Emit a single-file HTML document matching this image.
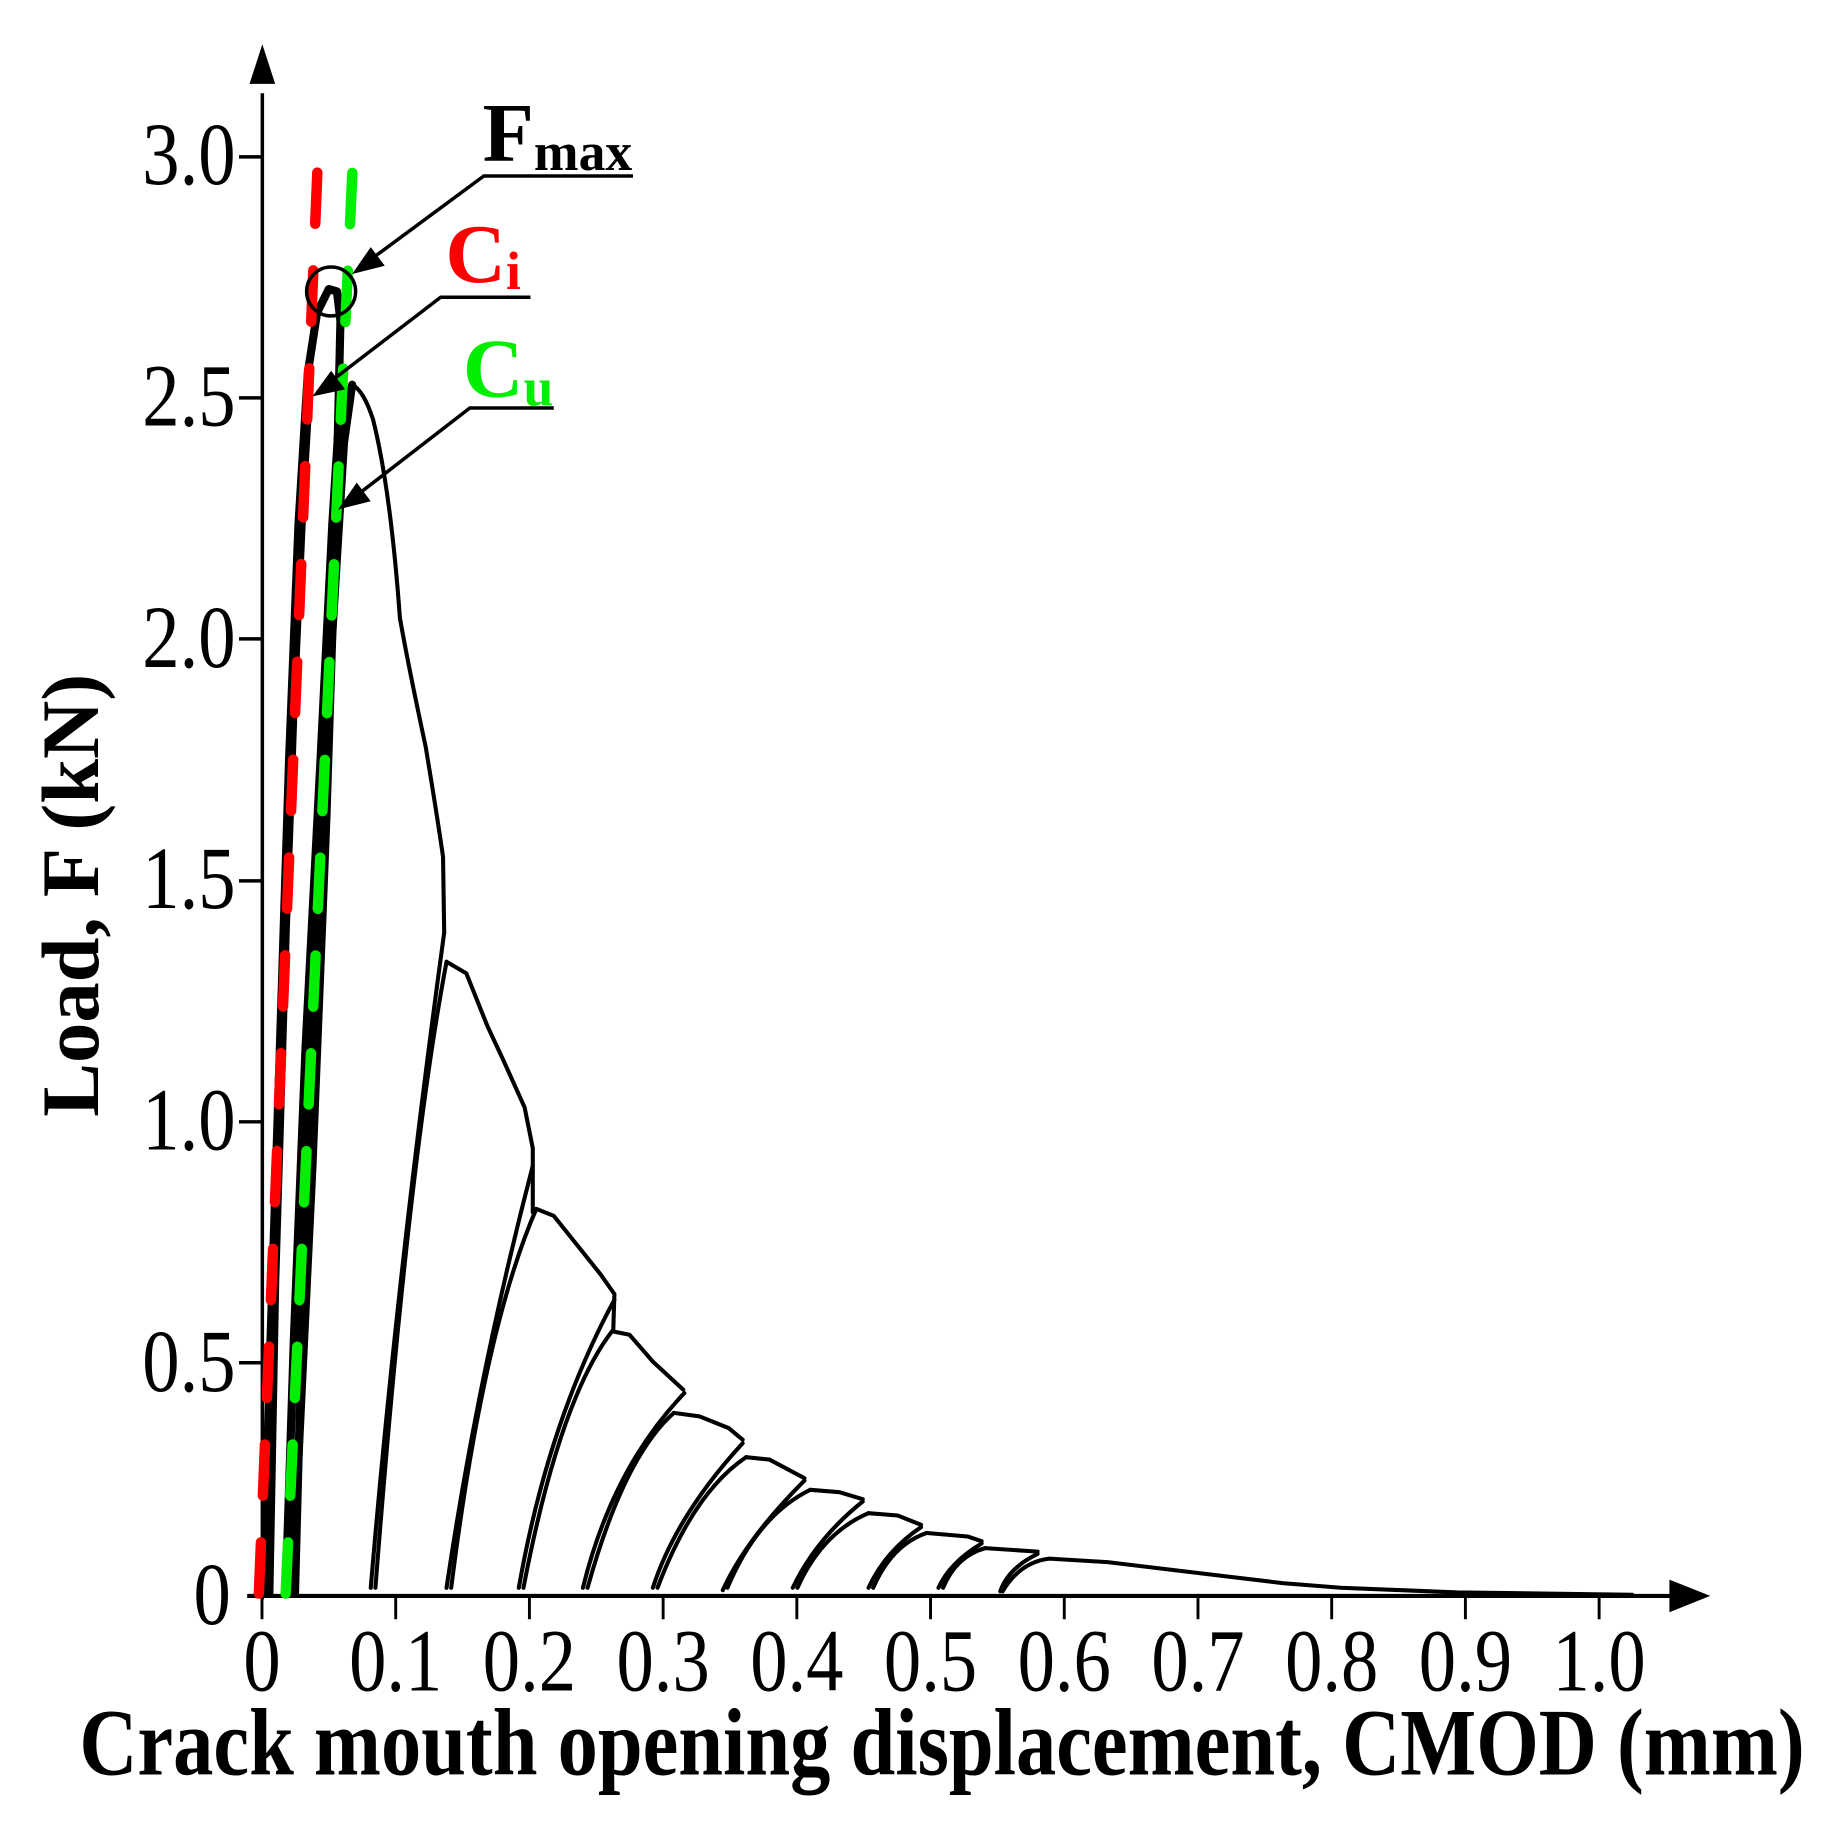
<!DOCTYPE html>
<html><head><meta charset="utf-8"><style>html,body{margin:0;padding:0;background:#fff}svg{display:block}</style></head>
<body>
<svg width="1828" height="1825" viewBox="0 0 1568 1565.5" xmlns="http://www.w3.org/2000/svg">
<rect x="0" y="0" width="1568" height="1566" fill="#fff"/>
<g font-family="Liberation Serif, serif" fill="#000">
<line x1="225" y1="80" x2="225" y2="1372" stroke="#000" stroke-width="3"/>
<polygon points="225,38 214,72 236,72" fill="#000"/>
<line x1="212" y1="1369" x2="1440" y2="1369" stroke="#000" stroke-width="3.5"/>
<polygon points="1467,1369 1432,1355 1432,1383" fill="#000"/>
<g stroke="#000" stroke-width="3">
<line x1="205" y1="134.6" x2="225" y2="134.6"/><line x1="205" y1="341.3" x2="225" y2="341.3"/>
<line x1="205" y1="548" x2="225" y2="548"/><line x1="205" y1="755.6" x2="225" y2="755.6"/>
<line x1="205" y1="962.3" x2="225" y2="962.3"/><line x1="205" y1="1169" x2="225" y2="1169"/>
</g>
<g font-size="64" text-anchor="end">
<text transform="translate(202,158) scale(1,1.2)">3.0</text>
<text transform="translate(202,365) scale(1,1.2)">2.5</text>
<text transform="translate(202,572) scale(1,1.2)">2.0</text>
<text transform="translate(202,779) scale(1,1.2)">1.5</text>
<text transform="translate(202,986) scale(1,1.2)">1.0</text>
<text transform="translate(202,1193) scale(1,1.2)">0.5</text>
<text transform="translate(198,1393) scale(1,1.2)">0</text>
</g>
<g stroke="#000" stroke-width="2.5">
<line x1="224.7" y1="1369" x2="224.7" y2="1389"/><line x1="339.4" y1="1369" x2="339.4" y2="1389"/>
<line x1="454.1" y1="1369" x2="454.1" y2="1389"/><line x1="568.8" y1="1369" x2="568.8" y2="1389"/>
<line x1="683.5" y1="1369" x2="683.5" y2="1389"/><line x1="798.2" y1="1369" x2="798.2" y2="1389"/>
<line x1="912.9" y1="1369" x2="912.9" y2="1389"/><line x1="1027.6" y1="1369" x2="1027.6" y2="1389"/>
<line x1="1142.3" y1="1369" x2="1142.3" y2="1389"/><line x1="1257" y1="1369" x2="1257" y2="1389"/>
<line x1="1371.7" y1="1369" x2="1371.7" y2="1389"/>
</g>
<g font-size="64" text-anchor="middle">
<text transform="translate(224.7,1450) scale(1,1.2)">0</text>
<text transform="translate(339.4,1450) scale(1,1.2)">0.1</text>
<text transform="translate(454.1,1450) scale(1,1.2)">0.2</text>
<text transform="translate(568.8,1450) scale(1,1.2)">0.3</text>
<text transform="translate(683.5,1450) scale(1,1.2)">0.4</text>
<text transform="translate(798.2,1450) scale(1,1.2)">0.5</text>
<text transform="translate(912.9,1450) scale(1,1.2)">0.6</text>
<text transform="translate(1027.6,1450) scale(1,1.2)">0.7</text>
<text transform="translate(1142.3,1450) scale(1,1.2)">0.8</text>
<text transform="translate(1257,1450) scale(1,1.2)">0.9</text>
<text transform="translate(1371.7,1450) scale(1,1.2)">1.0</text>
</g>
<text transform="translate(68,1522) scale(1,1.1)" font-size="74" font-weight="bold" textLength="1480" lengthAdjust="spacingAndGlyphs">Crack mouth opening displacement, CMOD (mm)</text>
<text transform="translate(84,958) rotate(-90)" font-size="70" font-weight="bold" textLength="380" lengthAdjust="spacingAndGlyphs">Load, F (kN)</text>
</g>
<g fill="none" stroke="#000" stroke-linejoin="round" stroke-linecap="round">
<g stroke-width="7">
<path d="M226,1367 L232,1150 L240,900 L248,650 L256,450 L264,320 L272,268 L282,248 L289,250 L292,275"/>
<path d="M231,1367 L236,1100 L245,800 L252,600 L260,420 L266,320"/>
<path d="M292,275 L288,450 L280,700 L268,1000 L256,1250 L250,1367"/>
<path d="M245,1367 L252,1150 L262,900 L275,650 L285,450 L292,340"/>
<path d="M253,1367 L260,1100 L272,800 L284,560 L295,380 L302,330"/>
</g>
<g stroke-width="3.5">
<path d="M302,330 Q312,335 320,360 Q335,420 343,530 Q350,570 365,640 Q375,700 380,735 L381,800"/>
<path d="M381,800 Q340,1100 318,1362"/>
<path d="M322,1362 Q350,1000 383,825"/>
<path d="M383,825 L400,835 L418,880 L432,910 L450,950 L457,985 L457,1040"/>
<path d="M457,1000 Q410,1180 383,1362"/>
<path d="M387,1362 Q415,1140 460,1037"/>
<path d="M460,1037 L475,1043 L495,1068 L515,1093 L527,1110 L526,1142"/>
<path d="M527,1115 Q470,1220 445,1362"/>
<path d="M449,1362 Q480,1200 525,1142"/>
<path d="M525,1142 L540,1145 L560,1168 L586,1192"/>
<path d="M587,1195 Q525,1260 500,1362"/>
<path d="M504,1362 Q535,1250 578,1212"/>
<path d="M578,1212 L600,1215 L625,1225 L637,1235"/>
<path d="M637,1238 Q580,1300 560,1362"/>
<path d="M564,1362 Q595,1280 640,1250"/>
<path d="M640,1250 L660,1252 L690,1268"/>
<path d="M690,1270 Q640,1320 620,1364"/>
<path d="M624,1362 Q650,1300 695,1278"/>
<path d="M695,1278 L720,1280 L740,1286"/>
<path d="M740,1288 Q700,1320 680,1362"/>
<path d="M684,1362 Q705,1315 745,1298"/>
<path d="M745,1298 L770,1300 L790,1308"/>
<path d="M790,1310 Q760,1330 745,1362"/>
<path d="M749,1362 Q765,1325 795,1315"/>
<path d="M795,1315 L830,1318 L842,1322"/>
<path d="M842,1324 Q815,1340 805,1362"/>
<path d="M809,1362 Q820,1335 845,1328"/>
<path d="M845,1328 L890,1331"/>
<path d="M890,1333 Q865,1345 858,1365"/>
<path d="M860,1365 Q875,1340 900,1337 L950,1340 L1000,1346 L1050,1352 L1100,1358 L1150,1362 L1200,1364 L1250,1366 L1400,1368"/>
</g>
</g>
<line x1="222" y1="1367" x2="273" y2="128" stroke="#ff0000" stroke-width="9" stroke-linecap="round" stroke-dasharray="44 40"/>
<line x1="245" y1="1367" x2="303" y2="132" stroke="#00ee00" stroke-width="9" stroke-linecap="round" stroke-dasharray="44 40"/>
<circle cx="284" cy="250" r="21" fill="none" stroke="#000" stroke-width="3"/>
<g stroke="#000" stroke-width="3" fill="none">
<polyline points="543,151 415,151 312,227"/>
<polyline points="455,255 378,255 280,330"/>
<polyline points="475,350 403,350 302,428"/>
</g>
<polygon points="302,235 318,212 330,228" fill="#000"/>
<polygon points="268,340 284,318 296,334" fill="#000"/>
<polygon points="290,437 306,414 318,430" fill="#000"/>
<g font-family="Liberation Serif, serif" font-weight="bold">
<text x="414" y="138" font-size="72" fill="#000">F<tspan font-size="46" dy="8">max</tspan></text>
<text x="382" y="242" font-size="72" fill="#ff0000">C<tspan font-size="46" dy="6">i</tspan></text>
<text x="397" y="340" font-size="72" fill="#00ee00">C<tspan font-size="46" dy="8">u</tspan></text>
</g>
</svg>
</body></html>
